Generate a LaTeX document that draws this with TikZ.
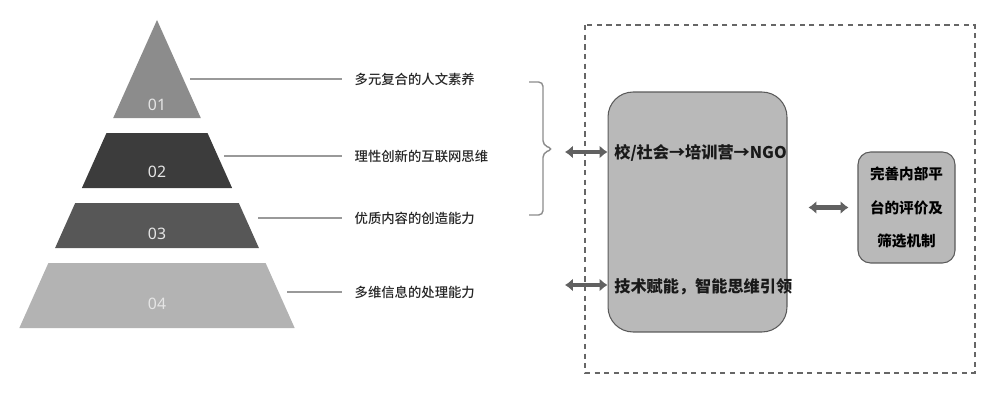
\documentclass[tikz,border=0pt]{standalone}
\usepackage{fontspec}
\setmainfont{Noto Sans}
\newfontfamily\cjk{Noto Sans CJK SC}
\newfontfamily\cjkmed{Noto Sans CJK SC Medium}
\usetikzlibrary{arrows.meta}
\definecolor{LayerA}{HTML}{8C8C8C}
\definecolor{LayerB}{HTML}{3C3C3C}
\definecolor{LayerC}{HTML}{575757}
\definecolor{LayerD}{HTML}{B3B3B3}
\definecolor{BoxGrey}{HTML}{B9B9B9}
\definecolor{EdgeGrey}{HTML}{5A5A5A}

\begin{document}
\begin{tikzpicture}[x=0.02cm, y=-0.02cm,
  num/.style={text=white!90!black, font=\fontsize{9}{10}\selectfont},
  item/.style={anchor=west, inner xsep=7pt, font=\cjkmed\fontsize{7.6}{9}\selectfont, text=black!85},
  lead/.style={draw=black!40, line width=0.8pt},
  twoway/.style={{Latex[length=4.5pt,width=7.5pt]}-{Latex[length=4.5pt,width=7.5pt]}, draw=black!62, line width=2.3pt},
  panel/.style={draw=EdgeGrey, fill=BoxGrey, line width=0.6pt},
  boxtext/.style={font=\cjk\bfseries\fontsize{9.2}{11}\selectfont, text=black!90},
]
\useasboundingbox (0,0) rectangle (993,412);

% --- pyramid ---
\foreach \t/\b/\c/\ly/\n [count=\k] in {20/118/LayerA/105/01, 133/188/LayerB/172/02, 203/248/LayerC/234/03, 263/328/LayerD/304/04}{
  \fill[\c] ({157-0.447*(\t-20)},\t) -- ({157+0.447*(\t-20)},\t) -- ({157+0.447*(\b-20)},\b) -- ({157-0.447*(\b-20)},\b) -- cycle;
  \node[num] (n-\k) at (157,\ly) {\n};
}

% --- abilities ---
\foreach \x/\y/\lab [count=\k] in {190/79/多元复合的人文素养, 224/156/理性创新的互联网思维, 258/218/优质内容的创造能力, 287/292/多维信息的处理能力}{
  \coordinate (p-\k) at (\x,\y);
  \node[item] (t-\k) at (342,\y) {\lab};
  \draw[lead] (p-\k) -- (t-\k.west);
}
\draw[black!45, line width=0.8pt, rounded corners=2.5pt] (529,82) -- (543,82) -- (543,145) -- (553,149) -- (543,153) -- (543,215) -- (529,215);

% --- platform ---
\draw[black!60, line width=0.8pt, dash pattern=on 3pt off 2.5pt] (585,25) rectangle (975,373);
\node[panel, rounded corners=0.5cm, minimum width=3.58cm, minimum height=4.8cm] (hub) at (697.5,212) {};
\node[boxtext, anchor=west, inner sep=0pt] (route) at (614,153) {校/社会→培训营→NGO};
\node[boxtext, anchor=west, inner sep=0pt] (tech) at (614,287) {技术赋能，智能思维引领};
\node[panel, rounded corners=0.25cm, minimum width=1.94cm, minimum height=2.22cm, align=center,
      font=\cjk\bfseries\fontsize{8.3}{19}\selectfont] (eval) at (906.5,207.5) {完善内部平\\台的评价及\\筛选机制};

\coordinate (a-1) at (565,152);
\coordinate (a-2) at (565,285);
\foreach \k in {1,2}
  \draw[twoway] (a-\k) -- (a-\k -| hub.west);
\draw[twoway, shorten <=0.42cm, shorten >=0.18cm] (eval.west -| hub.east) -- (eval.west);
\end{tikzpicture}
\end{document}
